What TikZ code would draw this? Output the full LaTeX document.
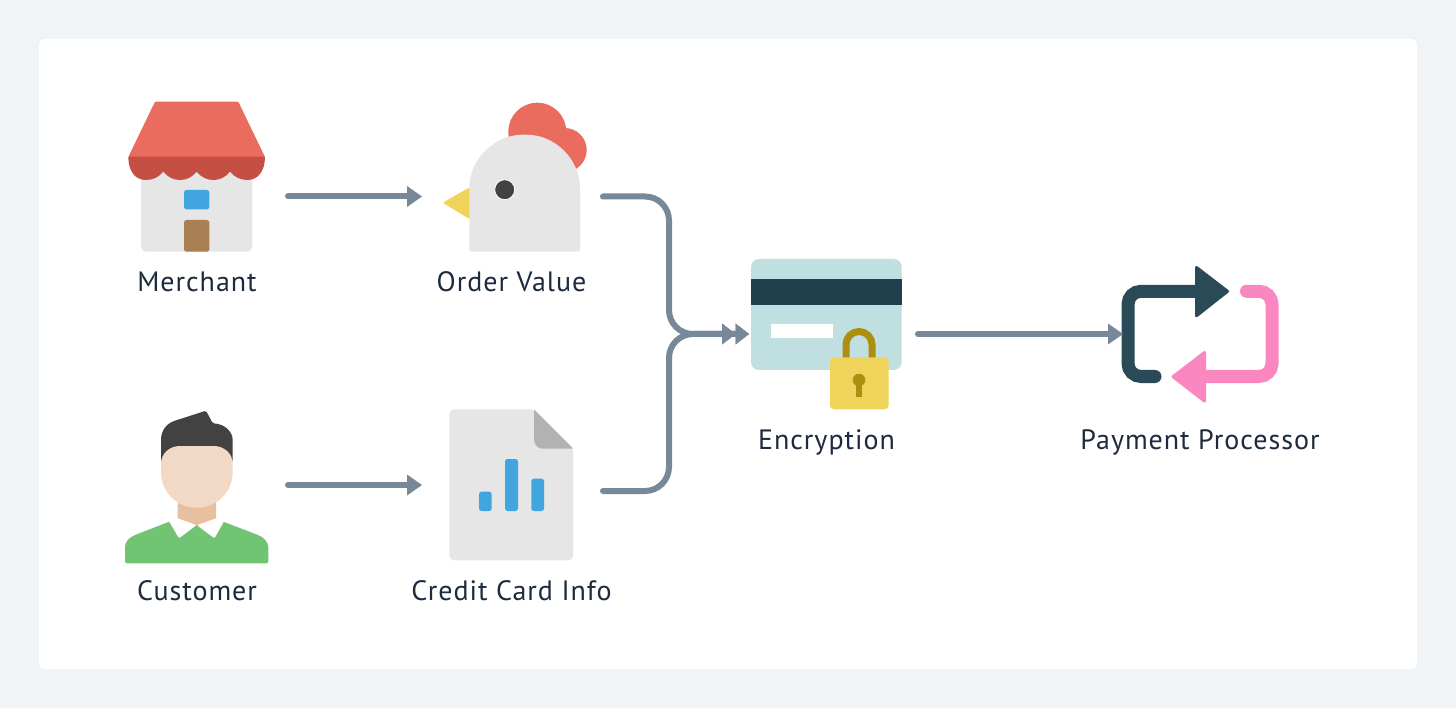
\documentclass[tikz,border=0pt]{standalone}
\usepackage{fontspec}
\setmainfont[LetterSpace=3.5]{PT Sans}
\usetikzlibrary{arrows.meta}
\definecolor{pagebg}{HTML}{F0F4F7}
\definecolor{wire}{HTML}{778899}
\definecolor{ink}{HTML}{1D2B3F}
\definecolor{roof}{HTML}{EA6C5E}
\definecolor{roofdark}{HTML}{C64F44}
\definecolor{lightgrey}{HTML}{E6E6E6}
\definecolor{midgrey}{HTML}{B2B2B2}
\definecolor{skyblue}{HTML}{41A6DF}
\definecolor{doorbrown}{HTML}{A97F54}
\definecolor{yellowm}{HTML}{F0D35A}
\definecolor{charcoal}{HTML}{424242}
\definecolor{skin}{HTML}{F2D9C6}
\definecolor{neck}{HTML}{E9C09F}
\definecolor{sweater}{HTML}{70C472}
\definecolor{cardblue}{HTML}{BFDFE1}
\definecolor{navy}{HTML}{223F4D}
\definecolor{gold}{HTML}{AD8E0E}
\definecolor{teal}{HTML}{2A4A58}
\definecolor{pinkm}{HTML}{FB87C0}
\tikzset{
  anchorbox/.style={minimum height=20pt,minimum width=#1,inner sep=0pt,outer sep=0pt},
  caption/.style={anchor=base,inner sep=0pt,text=ink,font=\fontsize{28}{32}\selectfont},
  flow/.style={draw=wire,line width=6pt,line cap=round,-{Triangle[length=15pt,width=21pt,line width=0pt]}},
  mergeflow/.style={draw=wire,line width=6pt,line cap=round,rounded corners=24pt,
    -{Triangle[length=13.5pt,width=21pt,line width=0pt]Triangle[length=13.5pt,width=21pt,line width=0pt]}},
  loopline/.style={line width=13pt,line cap=round,rounded corners=13pt},
}
\begin{document}
\begin{tikzpicture}[x=1pt,y=-1pt]
\useasboundingbox (0,0) rectangle (1456,708);
\fill[pagebg] (0,0) rectangle (1456,708);
\fill[white,rounded corners=6pt] (39,39) rectangle (1417,669);

% anchor boxes for the connectors
\node[anchorbox=182pt] (merchant) at (197,196.5) {};
\node[anchorbox=181pt] (order) at (512.5,196.5) {};
\node[anchorbox=182pt] (customer) at (197,485) {};
\node[anchorbox=181pt] (credit) at (512.5,485) {};
\node[anchorbox=169pt] (encryption) at (833.5,334) {};
\node[anchorbox=154pt] (processor) at (1200,334) {};
\coordinate (bus) at (669,334);

% merchant icon
\fill[lightgrey,rounded corners=5pt] (141,165) rectangle (252.3,251.7);
\fill[roof,rounded corners=1pt] (128.3,157) -- (155,101.7) -- (238.3,101.7) -- (265,157) -- cycle;
\fill[roofdark] (128.3,156.7) -- (265,156.7)
  .. controls (265,171) and (258,180) .. (247.5,180)
  .. controls (240.5,180) and (234.3,177) .. (230,171.7)
  .. controls (221.3,182.8) and (205.4,182.8) .. (196.7,171.7)
  .. controls (188,182.8) and (172,182.8) .. (163.3,171.7)
  .. controls (159,177) and (153,180) .. (146,180)
  .. controls (135,180) and (128.3,171) .. (128.3,156.7) -- cycle;
\fill[skyblue,rounded corners=2.5pt] (184,190) rectangle (209.3,209.3);
\fill[doorbrown,rounded corners=2.5pt] (184,251.7) -- (184,220) -- (209.3,220) -- (209.3,251.7) -- cycle;

% chicken icon
\fill[roof] (537.3,131.7) circle[radius=29pt];
\fill[roof] (564.7,150) circle[radius=22pt];
\fill[yellowm,rounded corners=2pt] (469.8,187.3) -- (442.7,202.7) -- (469.8,219.3) -- cycle;
\fill[lightgrey,rounded corners=2pt] (469.3,251.7) -- (469.3,190)
  .. controls (469.3,159.6) and (494.1,134.7) .. (524.7,134.7)
  .. controls (555.2,134.7) and (580,159.6) .. (580,190)
  -- (580,251.7) -- cycle;
\fill[charcoal,draw=white,line width=0.8pt] (504.7,189.7) circle[radius=10pt];

% customer icon
\fill[charcoal,rounded corners=1.5pt] (161,462) -- (161,441.7)
  .. controls (161,431) and (166,424) .. (175,420.7)
  -- (206,410.7) -- (212.7,423.3)
  .. controls (224,424) and (232.7,431) .. (232.7,441.7) -- (232.7,462) -- cycle;
\fill[sweater,rounded corners=2pt] (125,563.3) -- (125,549)
  .. controls (125,542) and (129,538) .. (135,535)
  -- (169.3,521.7) -- (223.3,521.7) -- (258,535)
  .. controls (264,538) and (268.3,542) .. (268.3,549)
  -- (268.3,563.3) -- cycle;
\fill[neck] (177.7,490) rectangle (216,525);
\fill[white,rounded corners=1pt] (169.3,521.7) -- (177.7,518.3) -- (196.7,525) -- (179,538.3) -- cycle;
\fill[white,rounded corners=1pt] (223.8,521.7) -- (216,518.3) -- (196.7,525) -- (214.5,538.3) -- cycle;
\fill[neck] (177.7,518) -- (196.7,525) -- (216,518) -- (216,505) -- (177.7,505) -- cycle;
\fill[skin] (161,464) .. controls (161,453) and (170,446) .. (180,446)
  -- (213.7,446) .. controls (223.7,446) and (232.7,453) .. (232.7,464)
  -- (232.7,472) .. controls (232.7,492) and (216.7,507.7) .. (196.9,507.7)
  .. controls (177,507.7) and (161,492) .. (161,472) -- cycle;

% document icon
\fill[lightgrey,rounded corners=5pt] (449.3,409.3) -- (534,409.3) -- (573.3,448.7) -- (573.3,560.3) -- (449.3,560.3) -- cycle;
\fill[midgrey] (534,409.3) -- (573.3,448.7) -- (543,448.7) .. controls (537.5,448.7) and (534,444.7) .. (534,439) -- cycle;
\fill[skyblue,rounded corners=2.5pt] (479,491.7) rectangle (491.7,511);
\fill[skyblue,rounded corners=2.5pt] (505,459) rectangle (518,511);
\fill[skyblue,rounded corners=2.5pt] (531.3,478.7) rectangle (544,511);

% card and lock icon
\fill[cardblue,rounded corners=8pt] (751,259) rectangle (901.7,370);
\fill[navy] (751,278.7) rectangle (901.7,305);
\fill[white] (770.7,324) rectangle (833,338);
\draw[gold,line width=7pt] (846,360) -- (846,344.5) arc[start angle=180,end angle=0,radius=13pt] -- (872,360);
\fill[yellowm,rounded corners=4pt] (830,357.3) rectangle (888.7,409.3);
\fill[gold] (859,380) circle[radius=6.3pt];
\fill[gold] (855.7,380) rectangle (862.3,396.7);

% repeat icon
\draw[loopline,teal] (1155,376.5) -- (1128,376.5) -- (1128,291.3) -- (1197,291.3);
\fill[teal,draw=teal,line width=3pt,line join=round] (1196.5,267.5) -- (1227.5,291.3) -- (1196.5,315.8) -- cycle;
\draw[loopline,pinkm] (1246.5,291.3) -- (1272,291.3) -- (1272,376.5) -- (1205,376.5);
\fill[pinkm,draw=pinkm,line width=3pt,line join=round] (1204.5,352.5) -- (1173,376.7) -- (1204.5,401.2) -- cycle;

% connectors
\draw[flow] (merchant) -- (order);
\draw[flow] (customer) -- (credit);
\draw[mergeflow] (order.east) -| (bus) -- (encryption.west);
\draw[mergeflow] ([yshift=-6pt]credit.east) -| (bus) -- (encryption.west);
\draw[flow] (encryption) -- (processor);

% captions
\node[caption] (merchantText) at (197,292) {Merchant};
\node[caption] (orderText) at (511.5,292) {Order Value};
\node[caption] (customerText) at (197,600) {Customer};
\node[caption] (creditText) at (511.5,600) {Credit Card Info};
\node[caption] (encryptionText) at (826.5,449) {Encryption};
\node[caption] (processorText) at (1200,449) {Payment Processor};
\end{tikzpicture}
\end{document}
